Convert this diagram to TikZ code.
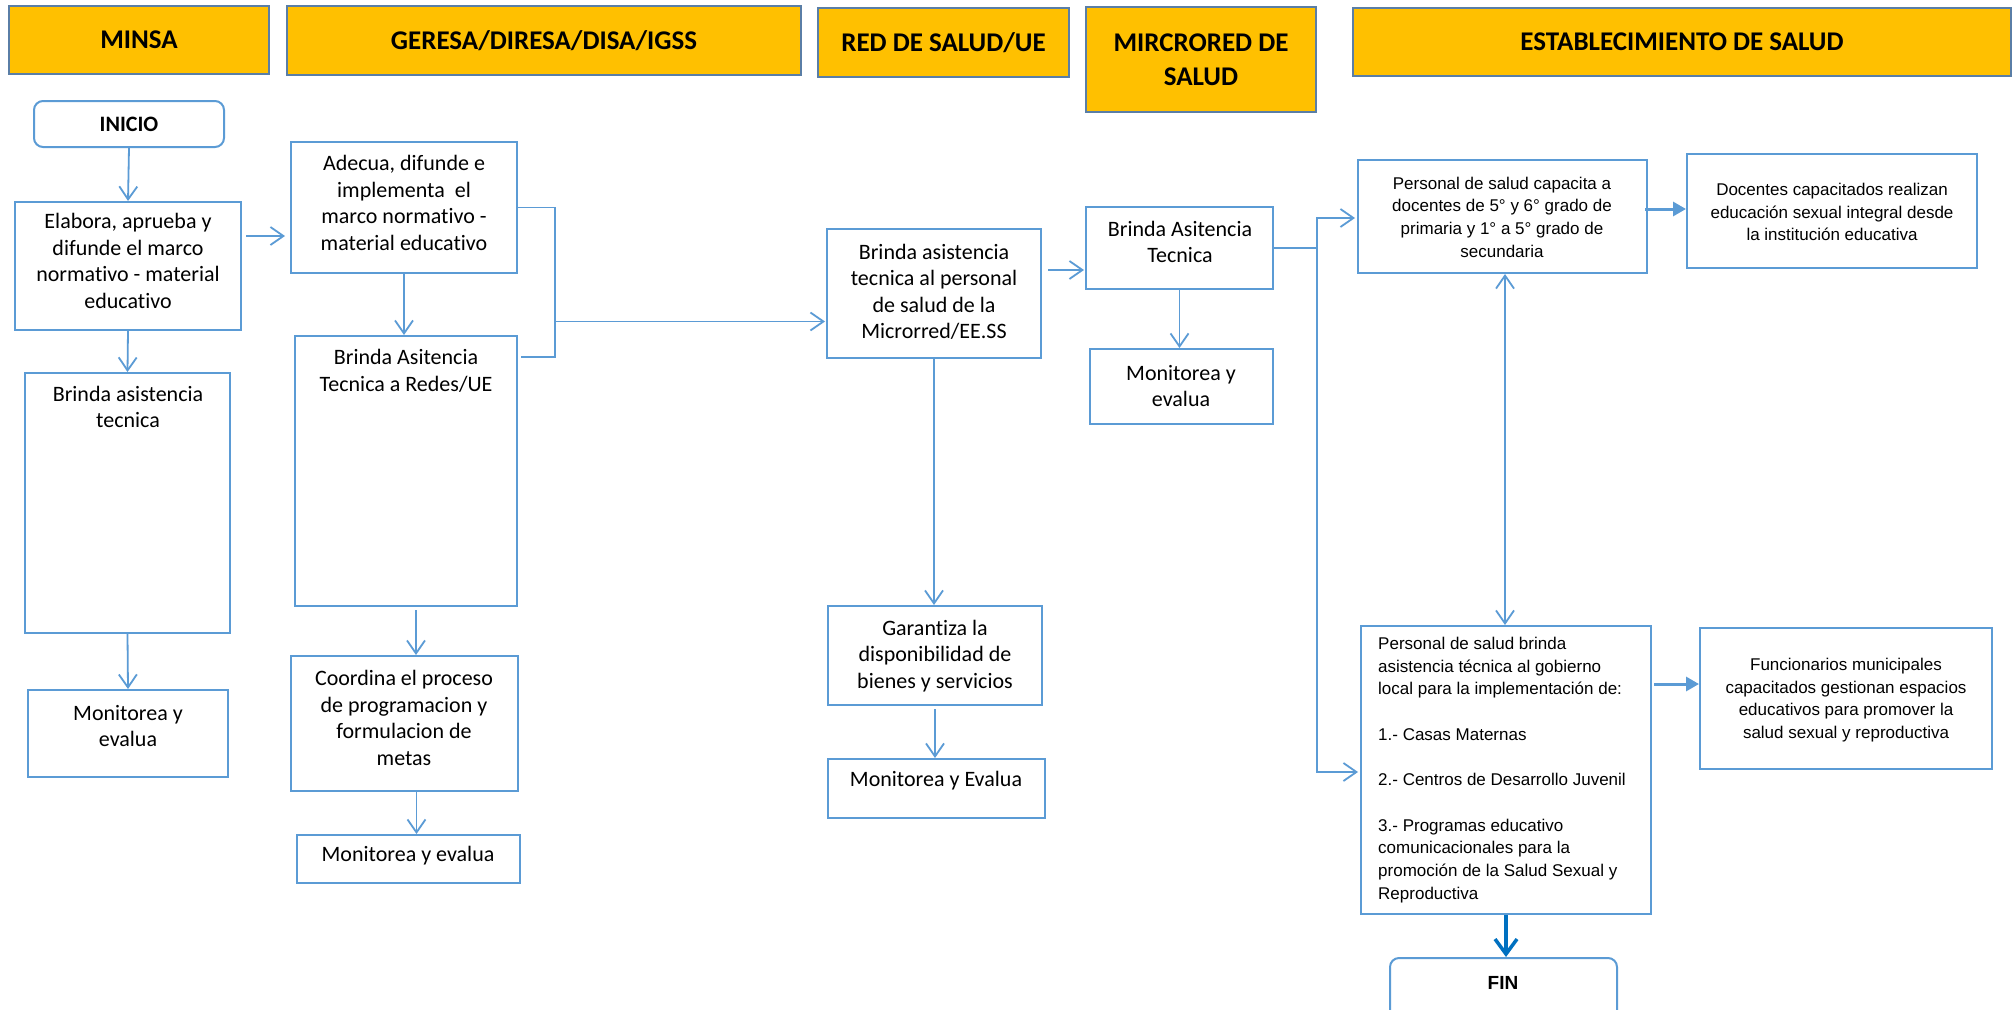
\documentclass[tikz,border=0pt]{standalone}
\usepackage{fontspec}
\setmainfont{Carlito}[Ligatures=NoCommon]
\newfontfamily\arialf{Liberation Sans}
\usetikzlibrary{arrows.meta,calc,fit}
\definecolor{hdr}{HTML}{FFC000}
\definecolor{hdrline}{HTML}{5A7EA6}
\definecolor{bl}{HTML}{5B9BD5}
\definecolor{dbl}{HTML}{0070C0}
\begin{document}
\begin{tikzpicture}[x=1pt,y=-1pt,
  hdrbox/.style={draw=hdrline, line width=1.5pt, fill=hdr, inner sep=0pt},
  hdrtxt/.style={font=\bfseries\fontsize{27pt}{34pt}\selectfont, align=center, inner sep=0pt},
  box/.style={draw=bl, line width=2pt, inner sep=0pt},
  rbox/.style={box, rounded corners=9pt},
  ctxt/.style={font=\fontsize{22pt}{26.5pt}\selectfont, align=center, inner sep=0pt},
  ctxtb/.style={font=\bfseries\fontsize{22pt}{26.5pt}\selectfont, align=center, inner sep=0pt},
  atxt/.style={font=\arialf\fontsize{17pt}{22.7pt}\selectfont, align=center, inner sep=0pt},
  ln/.style={draw=bl, line width=1.8pt},
  arr/.style={ln, -{Straight Barb[length=13pt,width=18pt]}},
  darr/.style={ln, {Straight Barb[length=13pt,width=18pt]}-{Straight Barb[length=13pt,width=18pt]}},
  farr/.style={draw=bl, line width=3pt, -{Triangle[length=13pt,width=14pt]}},
  finarr/.style={draw=dbl, line width=3.5pt, -{Straight Barb[length=15pt,width=22pt]}},
]
\useasboundingbox (0,0) rectangle (2015,1009);
\fill[white] (0,0) rectangle (2015,1009);

% ---------- headers ----------
\node[hdrbox, fit={(9,6) (269,74)}] (hminsa) {};
\node[hdrbox, fit={(287,6) (801,75)}] (hger) {};
\node[hdrbox, fit={(818,8) (1069,77)}] (hred) {};
\node[hdrbox, fit={(1086,7) (1316,112)}] (hmic) {};
\node[hdrbox, fit={(1353,8) (2011,76)}] (hest) {};
\node[hdrtxt] (t-hminsa) at (hminsa.center) {MINSA};
\node[hdrtxt] (t-hger) at (hger.center) {GERESA/DIRESA/DISA/IGSS};
\node[hdrtxt] (t-hred) at (hred.center) {RED DE SALUD/UE};
\node[hdrtxt] (t-hmic) at (hmic.center) {MIRCRORED DE\\SALUD};
\node[hdrtxt] (t-hest) at (hest.center) {ESTABLECIMIENTO DE SALUD};

% ---------- boxes ----------
\node[rbox, fit={(34,101) (224,147)}] (inicio) {};
\node[box, fit={(15,202) (241,330)}] (elab) {};
\node[box, fit={(25,373) (230,633)}] (brm) {};
\node[box, fit={(28,690) (228,777)}] (monm) {};
\node[box, fit={(291,142) (517,273)}] (adec) {};
\node[box, fit={(295,336) (517,606)}] (brg) {};
\node[box, fit={(291,656) (518,791)}] (coord) {};
\node[box, fit={(297,835) (520,883)}] (mong) {};
\node[box, fit={(827,229) (1041,358)}] (red) {};
\node[box, fit={(828,606) (1042,705)}] (gar) {};
\node[box, fit={(828,759) (1045,818)}] (monr) {};
\node[box, fit={(1086,207) (1273,289)}] (mb) {};
\node[box, fit={(1090,349) (1273,424)}] (mm) {};
\node[box, fit={(1358,160) (1647,273)}] (pc) {};
\node[box, fit={(1687,154) (1977,268)}] (doc) {};
\node[box, fit={(1361,626) (1651,914)}] (pb) {};
\node[box, fit={(1700,628) (1992,769)}] (fun) {};
\node[rbox, fit={(1390,958) (1617,1030)}] (fin) {};

% ---------- texts ----------
\node[ctxtb] (t-inicio) at (129,124) {INICIO};
\node[ctxt] (t-elab) at (128,261) {Elabora, aprueba y\\difunde el marco\\normativo - material\\educativo};
\node[ctxt] (t-brm) at (128,407) {Brinda asistencia\\tecnica};
\node[ctxt] (t-monm) at (128,726) {Monitorea y\\evalua};
\node[ctxt] (t-adec) at (404,203) {Adecua, difunde e\\implementa~ el\\marco normativo -\\material educativo};
\node[ctxt] (t-brg) at (406,371) {Brinda Asitencia\\Tecnica a Redes/UE};
\node[ctxt] (t-coord) at (404,718) {Coordina el proceso\\de programacion y\\formulacion de\\metas};
\node[ctxt] (t-mong) at (408,856) {Monitorea y evalua};
\node[ctxt] (t-red) at (934,292) {Brinda asistencia\\tecnica al personal\\de salud de la\\Microrred/EE.SS};
\node[ctxt] (t-gar) at (935,656) {Garantiza la\\disponibilidad de\\bienes y servicios};
\node[ctxt] (t-monr) at (936,781) {Monitorea y Evalua};
\node[ctxt] (t-mb) at (1180,242) {Brinda Asitencia\\Tecnica};
\node[ctxt] (t-mm) at (1181,386) {Monitorea y\\evalua};
\node[atxt] (t-pc) at (1502,217) {Personal de salud capacita a\\docentes de 5° y 6° grado de\\primaria y 1° a 5° grado de\\secundaria};
\node[atxt] (t-doc) at (1832,212) {Docentes capacitados realizan\\educación sexual integral desde\\la institución educativa};
\node[atxt, align=left, anchor=west] (t-pb) at (1378,770) {Personal de salud brinda\\asistencia técnica al gobierno\\local para la implementación de:\\[22.7pt]1.- Casas Maternas\\[22.7pt]2.- Centros de Desarrollo Juvenil\\[22.7pt]3.- Programas educativo\\comunicacionales para la\\promoción de la Salud Sexual y\\Reproductiva};
\node[atxt] (t-fun) at (1846,700) {Funcionarios municipales\\capacitados gestionan espacios\\educativos para promover la\\salud sexual y reproductiva};
\node[atxt, font=\arialf\bfseries\fontsize{19pt}{22pt}\selectfont] (t-fin) at (1503,983) {FIN};

% ---------- connectors ----------
% MINSA
\draw[arr] (inicio.south) -- (elab.north);
\draw[arr] (elab.south) -- (brm.north);
\draw[arr] (brm.south) -- (monm.north);
% MINSA -> GERESA
\path (elab.east) ++(0,-30) coordinate (a1);
\draw[arr, shorten <=4pt, shorten >=5pt] (a1) -- (a1 -| adec.west);
% GERESA column
\draw[arr] (adec.south) -- (adec.south |- brg.north);
\path (brg.south) ++(10,0) coordinate (g1);
\draw[arr, shorten <=3pt] (g1) -- (g1 |- coord.north);
\path (coord.south) ++(12,0) coordinate (g2);
\draw[arr] (g2) -- (g2 |- mong.north);
% bracket GERESA -> RED
\path (adec.east) ++(37,0) coordinate (bx);
\path (brg.north east) ++(3,22) coordinate (bg);
\draw[ln] (adec.east) -- (bx) |- (bg);
\path (bx) ++(0,114) coordinate (bm);
\draw[arr, shorten >=1pt] (bm) -- (bm -| red.west);
% RED column
\path (red.east) ++(6,-23.5) coordinate (r1);
\draw[arr, shorten >=1pt] (r1) -- (r1 -| mb.west);
\draw[arr] (red.south) -- (red.south |- gar.north);
\draw[arr, shorten <=3pt] (gar.south) -- (gar.south |- monr.north);
% MICRORED column
\draw[arr] (mb.south) -- (mb.south |- mm.north);
\path (mb.east) ++(43,0) coordinate (jx);
\draw[ln] (mb.east) -- (jx);
\path (jx) ++(0,-30) coordinate (jt);
\path (jx) ++(0,524) coordinate (jb);
\draw[arr, shorten >=2pt] (jx) -- (jt) -- (jt -| pc.west);
\draw[arr, shorten >=2pt] (jx) -- (jb) -- (jb -| pb.west);
% ESTABLECIMIENTO
\path (pc.east) ++(-3,-7.5) coordinate (p1);
\draw[farr] (p1) -- (p1 -| doc.west);
\path (pc.south) ++(2.5,0) coordinate (d1);
\draw[darr] (d1) -- (d1 |- pb.north);
\path (pb.east) ++(2,-86) coordinate (f1);
\draw[farr] (f1) -- (f1 -| fun.west);
\draw[finarr] (pb.south) -- (pb.south |- fin.north);
\end{tikzpicture}
\end{document}
